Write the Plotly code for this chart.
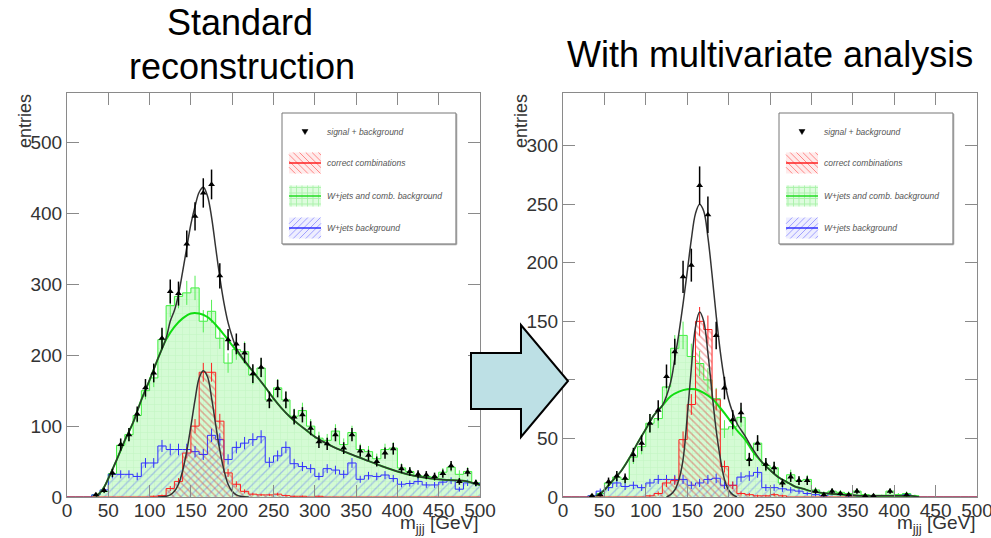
import plotly.graph_objects as go

W, H = 991, 538

# ---------------- data (bin centres 5..495, width 10 GeV) ----------------
bin_width = 10
centers = [5 + 10 * i for i in range(50)]

# LEFT: standard reconstruction
data_L = [0, 0, 0, 3, 9, 34, 74, 88, 117, 154, 175, 224, 290, 287, 357, 396, 429, 441, 312, 222,
          216, 203, 174, 183, 137, 153, 137, 113, 116, 97, 78, 75, 88, 69, 88, 65, 59, 50, 62, 68,
          40, 36, 32, 31, 29, 33, 44, 22, 35, 20]
green_L = [0, 0, 0, 3, 8, 33, 73, 88, 115, 150, 168, 222, 270, 283, 288, 295, 248, 262, 224, 189,
           208, 205, 172, 182, 137, 154, 137, 114, 122, 100, 83, 80, 93, 74, 91, 67, 64, 54, 67, 69,
           41, 36, 30, 29, 28, 35, 42, 32, 36, 20]
red_L = [0, 0, 0, 0, 0, 0, 0, 0, 0, 0, 1, 2, 12, 22, 62, 100, 176, 176, 107, 34,
         18, 8, 4, 3, 3, 4, 2, 1, 1, 0, 1, 0, 0, 0, 0, 0, 0, 0, 0, 0,
         0, 0, 0, 0, 0, 0, 0, 0, 0, 0]
blue_L = [0, 0, 0, 3, 10, 32, 32, 32, 29, 48, 48, 72, 67, 67, 67, 64, 60, 87, 81, 53,
          70, 76, 81, 85, 49, 58, 70, 47, 43, 40, 29, 40, 38, 32, 48, 25, 30, 29, 31, 26,
          18, 19, 22, 17, 17, 21, 23, 11, 20, 19]

bkgfit_x_L = [35, 40, 45, 50, 60, 70, 80, 90, 100, 110, 120, 130, 140, 150, 160, 170, 180, 190, 200,
              210, 220, 230, 240, 250, 260, 270, 280, 290, 300, 320, 340, 360, 380, 400, 420, 440,
              460, 480, 500]
bkgfit_y_L = [1, 6, 14, 26, 52, 80, 105, 137, 165, 195, 222, 240, 252, 259, 259, 254, 243, 229, 214,
              199, 184, 170, 155, 139, 125, 113, 103, 94, 85, 72, 62, 53, 44, 36, 30, 26,
              24, 23, 17]
sigfit_x_L = [110, 120, 125, 130, 135, 140, 145, 150, 155, 160, 165, 170, 175, 180, 185, 190, 195,
              200, 205, 210, 220]
sigfit_y_L = [0, 1, 3, 8, 18, 37, 65, 100, 137, 168, 178, 170, 140, 102, 66, 38, 18, 8, 3, 1, 0]
totfit_x_L = [35, 40, 45, 50, 60, 70, 80, 90, 100, 110, 120, 125, 130, 135, 140, 145, 150, 155, 160,
              165, 170, 175, 180, 185, 190, 195, 200, 205, 210, 220, 230, 240, 250, 260, 270, 280,
              290, 300, 320, 340, 360, 380, 400, 420, 440, 460, 480, 500]
totfit_y_L = [1, 6, 14, 26, 52, 80, 105, 137, 165, 195, 224, 248, 263, 286, 318, 352, 385, 410, 430,
              437, 425, 395, 352, 310, 274, 246, 226, 210, 200, 185, 170, 155, 139, 125, 113, 103,
              94, 85, 72, 62, 53, 44, 36, 30, 26, 24, 23, 17]

# RIGHT: with multivariate analysis
data_R = [0, 0, 0, 1, 2, 13, 18, 16, 36, 46, 63, 74, 103, 124, 188, 198, 266, 241, 138, 93,
          66, 72, 32, 46, 28, 25, 12, 17, 14, 14, 5, 2, 5, 3, 2, 5, 1, 1, 0, 5,
          0, 2, 0, 0, 0, 0, 0, 0, 0, 0]
green_R = [0, 0, 0, 1, 3, 12, 17, 15, 34, 43, 63, 67, 94, 127, 138, 120, 114, 100, 84, 58,
           60, 68, 32, 46, 27, 25, 12, 19, 14, 15, 6, 3, 5, 4, 3, 5, 2, 1, 1, 5,
           2, 3, 1, 0, 0, 0, 0, 0, 0, 0]
red_R = [0, 0, 0, 0, 0, 0, 0, 0, 0, 0, 1, 3, 12, 14, 49, 79, 150, 143, 83, 26,
         10, 3, 2, 1, 1, 2, 1, 0, 0, 0, 0, 0, 0, 0, 0, 0, 0, 0, 0, 0,
         0, 0, 0, 0, 0, 0, 0, 0, 0, 0]
blue_R = [0, 0, 0, 1, 5, 8, 12, 9, 10, 8, 12, 15, 15, 15, 15, 10, 12, 15, 16, 10,
          10, 17, 18, 21, 8, 8, 7, 6, 5, 3, 2, 1, 3, 2, 1, 1, 0, 0, 0, 0,
          0, 2, 0, 0, 0, 0, 0, 0, 0, 0]

bkgfit_x_R = [40, 45, 50, 60, 70, 80, 90, 100, 110, 120, 130, 140, 150, 160, 170, 180, 190, 200, 210,
              220, 230, 240, 250, 260, 270, 280, 290, 300, 320, 340, 360, 380, 400, 420, 430]
bkgfit_y_R = [1, 3, 6, 14, 22, 33, 46, 58, 70, 78, 86, 90, 92, 92, 89, 84, 76, 67, 57,
              49, 38, 30, 23, 17, 13, 9, 7, 5, 3, 2, 1, 1, 1, 1, 0]
sigfit_x_R = [125, 130, 135, 140, 145, 150, 155, 160, 165, 170, 175, 180, 185, 190, 195, 200, 205, 210]
sigfit_y_R = [0, 2, 6, 15, 32, 68, 110, 145, 158, 150, 123, 89, 57, 33, 15, 6, 2, 0]
totfit_x_R = [40, 45, 50, 60, 70, 80, 90, 100, 110, 120, 130, 135, 140, 145, 150, 155, 160, 165, 170,
              175, 180, 185, 190, 195, 200, 205, 210, 220, 230, 240, 250, 260, 270, 280, 290, 300,
              320, 340, 360, 380, 400, 420, 430]
totfit_y_R = [1, 3, 6, 14, 22, 33, 46, 58, 70, 78, 98, 118, 140, 165, 192, 220, 242, 250, 244,
              222, 190, 155, 124, 100, 83, 72, 63, 52, 40, 30, 23, 17, 13, 9, 7, 5,
              3, 2, 1, 1, 1, 1, 0]

x_ticks = [0, 50, 100, 150, 200, 250, 300, 350, 400, 450, 500]
titles = ["Standard", "reconstruction", "With multivariate analysis"]
legend_names = ["signal + background", "correct combinations",
                "W+jets and comb. background", "W+jets background"]

# ---------------- helpers ----------------
edges = [c - bin_width / 2 for c in centers] + [centers[-1] + bin_width / 2]


def px(x):
    return x / W


def py(y):
    return 1 - y / H


def step(vals):
    return vals + [vals[-1]]


fig = go.Figure()

C_GREEN_LINE = "#3ef03e"
C_BLUE = "#3030ff"
C_RED = "#ff2020"


def add_panel(xa, ya, data, green, red, blue, bx, by, sx, sy, tx, ty):
    fig.add_trace(go.Scatter(
        x=edges, y=step(green), xaxis=xa, yaxis=ya, mode="lines", line_shape="hv",
        line=dict(color=C_GREEN_LINE, width=1), fill="tozeroy", fillcolor="#d4fbd4",
        fillpattern=dict(shape="+", fgcolor="#a8eca8", size=7, solidity=0.12, fillmode="overlay"),
        name=legend_names[2], showlegend=False))
    fig.add_trace(go.Scatter(
        x=edges, y=step(blue), xaxis=xa, yaxis=ya, mode="lines", line_shape="hv",
        line=dict(color=C_BLUE, width=1), fill="tozeroy", fillcolor="rgba(0,0,0,0)",
        fillpattern=dict(shape="/", fgcolor="rgba(60,80,255,0.65)", size=6, solidity=0.22),
        name=legend_names[3], showlegend=False))
    fig.add_trace(go.Scatter(
        x=edges, y=step(red), xaxis=xa, yaxis=ya, mode="lines", line_shape="hv",
        line=dict(color=C_RED, width=1), fill="tozeroy", fillcolor="rgba(0,0,0,0)",
        fillpattern=dict(shape="\\", fgcolor="rgba(225,50,50,0.8)", size=5, solidity=0.3),
        name=legend_names[1], showlegend=False))
    for vals, col in ((green, "#55ee55"), (blue, C_BLUE), (red, C_RED)):
        xs = [c for c, v in zip(centers, vals) if v > 0]
        ys = [v for v in vals if v > 0]
        fig.add_trace(go.Scatter(
            x=xs, y=ys, xaxis=xa, yaxis=ya, mode="markers",
            marker=dict(size=1, color="rgba(0,0,0,0)"),
            error_y=dict(type="sqrt", color=col, thickness=1, width=0),
            showlegend=False, hoverinfo="skip"))
    fig.add_trace(go.Scatter(x=bx, y=by, xaxis=xa, yaxis=ya, mode="lines", line_shape="spline",
                             line=dict(color="#10dd10", width=2), showlegend=False))
    fig.add_trace(go.Scatter(x=sx, y=sy, xaxis=xa, yaxis=ya, mode="lines", line_shape="spline",
                             line=dict(color="#333333", width=1.5), showlegend=False))
    fig.add_trace(go.Scatter(x=tx, y=ty, xaxis=xa, yaxis=ya, mode="lines", line_shape="spline",
                             line=dict(color="#333333", width=1.5), showlegend=False))
    xs = [c for c, v in zip(centers, data) if v > 0]
    ys = [v for v in data if v > 0]
    fig.add_trace(go.Scatter(
        x=xs, y=ys, xaxis=xa, yaxis=ya, mode="markers",
        marker=dict(symbol="triangle-up", size=6, color="black"),
        error_y=dict(type="sqrt", color="black", thickness=1.5, width=0),
        name=legend_names[0], showlegend=False))


add_panel("x", "y", data_L, green_L, red_L, blue_L,
          bkgfit_x_L, bkgfit_y_L, sigfit_x_L, sigfit_y_L, totfit_x_L, totfit_y_L)
add_panel("x2", "y2", data_R, green_R, red_R, blue_R,
          bkgfit_x_R, bkgfit_y_R, sigfit_x_R, sigfit_y_R, totfit_x_R, totfit_y_R)

axis_common = dict(showline=True, mirror="ticks", linecolor="#8a8a8a", linewidth=1,
                   ticks="inside", ticklen=12, tickcolor="#8a8a8a", tickwidth=1,
                   showgrid=False, zeroline=False, automargin=False, ticklabeloverflow="allow",
                   tickfont=dict(family="Liberation Sans, Arial, sans-serif", size=19, color="#333"))

ybot, ytop = py(497), py(93)
fig.update_layout(
    width=W, height=H, margin=dict(l=0, r=0, t=0, b=0, pad=0, autoexpand=False),
    paper_bgcolor="white", plot_bgcolor="white", showlegend=False,
    xaxis=dict(domain=[px(67), px(480)], range=[0, 500], tickvals=x_ticks, anchor="y",
               ticklabelstandoff=-4, **axis_common),
    yaxis=dict(domain=[ybot, ytop], range=[0, 570], dtick=100, anchor="x", **axis_common),
    xaxis2=dict(domain=[px(563), px(977)], range=[0, 500], tickvals=x_ticks, anchor="y2",
                ticklabelstandoff=-4, **axis_common),
    yaxis2=dict(domain=[ybot, ytop], range=[0, 345], dtick=50, anchor="x2", **axis_common),
)

# ---------------- legends (drawn as boxes in paper space) ----------------
lfont = dict(family="Liberation Sans, Arial, sans-serif", size=8.5, color="#555", style="italic")


def seg(x0, y0, x1, y1, color, width=1):
    fig.add_shape(type="line", xref="paper", yref="paper", x0=px(x0), y0=py(y0), x1=px(x1), y1=py(y1),
                  line=dict(color=color, width=width))


def hatch_icon(x0, y0, x1, y1, kind, hatch_col, tint, line_col):
    fig.add_shape(type="rect", xref="paper", yref="paper", x0=px(x0), y0=py(y0), x1=px(x1), y1=py(y1),
                  fillcolor=tint, line=dict(width=0))
    gap = 4.5
    if kind == "+":
        xx = x0 + 2
        while xx < x1:
            seg(xx, y0, xx, y1, hatch_col)
            xx += gap + 1
        yy = y0 + 2
        while yy < y1:
            seg(x0, yy, x1, yy, hatch_col)
            yy += gap + 1
    else:
        c = -(y1 - y0)
        while c < (x1 - x0) + (y1 - y0):
            xs = max(x0, x0 + c)
            xe = min(x1, x0 + c + (y1 - y0))
            if xe > xs:
                if kind == "\\":
                    seg(xs, y0 + (xs - x0 - c), xe, y0 + (xe - x0 - c), hatch_col)
                else:
                    seg(xs, y1 - (xs - x0 - c), xe, y1 - (xe - x0 - c), hatch_col)
            c += gap * 1.4
    seg(x0, (y0 + y1) / 2, x1, (y0 + y1) / 2, line_col, 1.5)


def draw_legend(bx0):
    by0, by1, bx1 = 113, 244, bx0 + 174
    fig.add_shape(type="rect", xref="paper", yref="paper", x0=px(bx0), y0=py(by0), x1=px(bx1), y1=py(by1),
                  fillcolor="white", line=dict(color="#777", width=1), layer="above")
    seg(bx0 + 1, by1 + 0.5, bx1 + 0.5, by1 + 0.5, "#999", 1.5)
    seg(bx1 + 0.5, by0 + 1, bx1 + 0.5, by1 + 0.5, "#999", 1.5)
    ix0, ix1 = bx0 + 7, bx0 + 39
    rows = [132, 163, 196, 228]
    m = (ix0 + ix1) / 2
    fig.add_shape(type="path", xref="paper", yref="paper",
                  path=f"M {px(m-3):.5f},{py(rows[0]-2.5):.5f} L {px(m+3):.5f},{py(rows[0]-2.5):.5f} "
                       f"L {px(m):.5f},{py(rows[0]+2.5):.5f} Z",
                  fillcolor="black", line=dict(color="black", width=0.5))
    hatch_icon(ix0, rows[1] - 10.5, ix1, rows[1] + 10.5, "\\", "rgba(255,110,110,0.8)",
               "rgba(255,235,235,1)", C_RED)
    hatch_icon(ix0, rows[2] - 10.5, ix1, rows[2] + 10.5, "+", "rgba(170,242,170,0.9)",
               "rgba(222,252,222,1)", "#22dd22")
    hatch_icon(ix0, rows[3] - 10.5, ix1, rows[3] + 10.5, "/", "rgba(140,140,255,0.8)",
               "rgba(238,238,255,1)", C_BLUE)
    for name, ry in zip(legend_names, rows):
        fig.add_annotation(text=name, x=px(bx0 + 43), y=py(ry), xref="paper", yref="paper",
                           showarrow=False, font=lfont, xanchor="left", yanchor="middle")


draw_legend(282)
draw_legend(779)

# titles
tfont = dict(family="Liberation Sans, Arial, sans-serif", size=36, color="black")
fig.add_annotation(text=titles[0], x=px(240), y=py(22), xref="paper", yref="paper",
                   showarrow=False, font=tfont, xanchor="center", yanchor="middle")
fig.add_annotation(text=titles[1], x=px(242), y=py(66), xref="paper", yref="paper",
                   showarrow=False, font=tfont, xanchor="center", yanchor="middle")
fig.add_annotation(text=titles[2], x=px(770), y=py(55), xref="paper", yref="paper",
                   showarrow=False, font=tfont, xanchor="center", yanchor="middle")

# axis titles
afont = dict(family="Liberation Sans, Arial, sans-serif", size=18, color="#333")
for xpos in (25, 521):
    fig.add_annotation(text="entries", x=px(xpos), y=py(92), xref="paper", yref="paper",
                       showarrow=False, font=afont, textangle=-90, xanchor="center", yanchor="top")
for xr in (481, 978):
    fig.add_annotation(text="m<sub>jjj</sub> [GeV]", x=px(xr), y=py(538), xref="paper", yref="paper",
                       showarrow=False, font=dict(family="Liberation Sans, Arial, sans-serif", size=19, color="#333"),
                       xanchor="right", yanchor="bottom")

# arrow
pts = [(471, 353), (521, 353), (521, 325), (568, 381), (521, 437), (521, 409), (471, 409)]
path = "M " + " L ".join(f"{px(a):.5f},{py(b):.5f}" for a, b in pts) + " Z"
fig.add_shape(type="path", path=path, xref="paper", yref="paper",
              fillcolor="#bde0e5", line=dict(color="black", width=2), layer="above")

fig.write_html("out.html", config={"displayModeBar": False},
               post_script="document.body.style.margin='0';document.body.style.overflow='hidden';")
